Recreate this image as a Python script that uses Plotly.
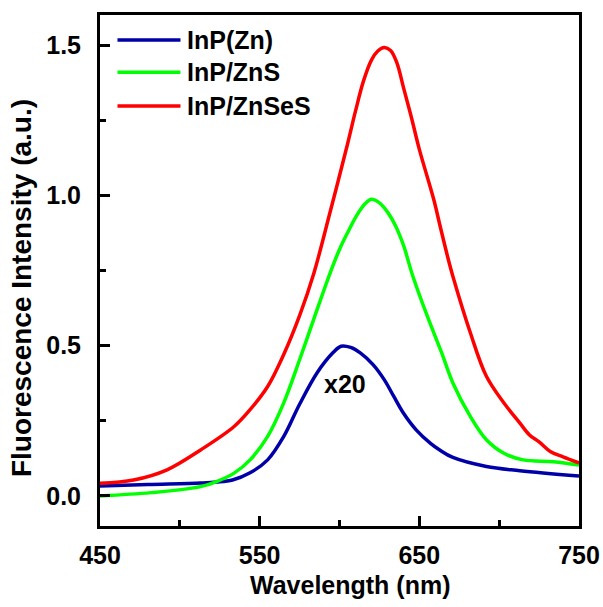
import plotly.graph_objects as go

# ---- data ----
blue_x = [450, 480, 513, 523, 533, 544, 555, 565, 575, 586, 596, 601, 607, 613, 621, 628, 634, 640, 648, 657, 663, 671, 692, 713, 750]
blue_y = [0.033, 0.038, 0.043, 0.046, 0.053, 0.077, 0.12, 0.197, 0.305, 0.41, 0.477, 0.498, 0.494, 0.476, 0.437, 0.387, 0.331, 0.276, 0.22, 0.175, 0.152, 0.128, 0.098, 0.084, 0.066]

green_x = [450, 482, 513, 523, 534, 544, 555, 565, 575, 584, 594, 600, 605, 611, 616, 620, 625, 630, 635, 640, 646, 655, 664, 671, 682, 692, 703, 715, 734, 750]
green_y = [0.0, 0.011, 0.031, 0.048, 0.076, 0.12, 0.198, 0.309, 0.453, 0.59, 0.74, 0.82, 0.875, 0.935, 0.972, 0.987, 0.975, 0.945, 0.9, 0.835, 0.73, 0.598, 0.476, 0.376, 0.264, 0.187, 0.142, 0.12, 0.114, 0.103]

red_x = [450, 471, 492, 513, 534, 544, 555, 565, 575, 584, 594, 605, 610, 615, 620, 624, 628, 632, 636, 640, 645, 650, 659, 663, 668, 671, 682, 692, 703, 713, 719, 725, 732, 740, 750]
red_y = [0.042, 0.053, 0.087, 0.153, 0.231, 0.287, 0.364, 0.47, 0.6, 0.742, 0.942, 1.17, 1.28, 1.38, 1.45, 1.48, 1.492, 1.482, 1.44, 1.36, 1.26, 1.153, 0.987, 0.898, 0.79, 0.731, 0.542, 0.398, 0.309, 0.242, 0.203, 0.18, 0.148, 0.13, 0.11]

series_names = ["InP(Zn)", "InP/ZnS", "InP/ZnSeS"]
series_colors = ["#0000a8", "#00ff00", "#ff0000"]

x_ticks = [450, 550, 650, 750]
x_minor = [500, 600, 700]
y_ticks = [0.0, 0.5, 1.0, 1.5]
y_tick_labels = ["0.0", "0.5", "1.0", "1.5"]
y_minor = [0.25, 0.75, 1.25]

x_title = "Wavelength (nm)"
y_title = "Fluorescence Intensity (a.u.)"

FONT = "Liberation Sans, Arial, sans-serif"

fig = go.Figure()
for xs, ys, name, col in zip([blue_x, green_x, red_x], [blue_y, green_y, red_y], series_names, series_colors):
    fig.add_trace(go.Scatter(x=xs, y=ys, mode="lines", name=name,
                             line=dict(color=col, width=3.5, shape="spline", smoothing=1.0),
                             showlegend=False))

# manual legend (long line samples like the reference)
leg_y = [0.951, 0.888, 0.822]
for name, col, ly in zip(series_names, series_colors, leg_y):
    fig.add_shape(type="line", xref="paper", yref="paper", x0=0.0365, x1=0.168, y0=ly, y1=ly,
                  line=dict(color=col, width=3.5))
    fig.add_annotation(xref="paper", yref="paper", x=0.178, y=ly, text=name, showarrow=False,
                       xanchor="left", yanchor="middle",
                       font=dict(family=FONT, size=25, color="black", weight="bold"))

fig.add_annotation(x=603.5, y=0.373, text="x20", showarrow=False, xanchor="center", yanchor="middle",
                   font=dict(family=FONT, size=25, color="black", weight="bold"))

# axis titles
fig.add_annotation(xref="paper", yref="paper", x=0.5214, y=-0.1155, text=x_title, showarrow=False,
                   xanchor="center", yanchor="middle",
                   font=dict(family=FONT, size=25, color="black", weight="bold"))
fig.add_annotation(xref="paper", yref="paper", x=-0.1637, y=0.4648, text=y_title, showarrow=False,
                   textangle=-90, xanchor="center", yanchor="middle",
                   font=dict(family=FONT, size=28, color="black", weight="bold"))

axis_common = dict(showline=True, linecolor="black", linewidth=3, mirror=True,
                   ticks="inside", tickcolor="black", tickwidth=3, ticklen=10,
                   showgrid=False, zeroline=False, automargin=False)

fig.update_xaxes(range=[450, 750], tickvals=x_ticks,
                 minor=dict(tickvals=x_minor, ticks="inside", ticklen=6, tickwidth=3, tickcolor="black"),
                 tickfont=dict(family=FONT, size=25, color="black", weight="bold"),
                 ticklabelstandoff=5,
                 **axis_common)
fig.update_yaxes(range=[-0.1, 1.6], tickvals=y_ticks, ticktext=y_tick_labels,
                 minor=dict(tickvals=y_minor, ticks="inside", ticklen=6, tickwidth=3, tickcolor="black"),
                 tickfont=dict(family=FONT, size=25, color="black", weight="bold"),
                 ticklabelstandoff=11,
                 **axis_common)

fig.update_layout(width=603, height=607, margin=dict(l=100, r=24, t=15, b=81),
                  plot_bgcolor="white", paper_bgcolor="white")

fig.write_html("out.html", config={"displayModeBar": False},
               post_script="document.body.style.margin='0px'; document.body.style.overflow='hidden';")
